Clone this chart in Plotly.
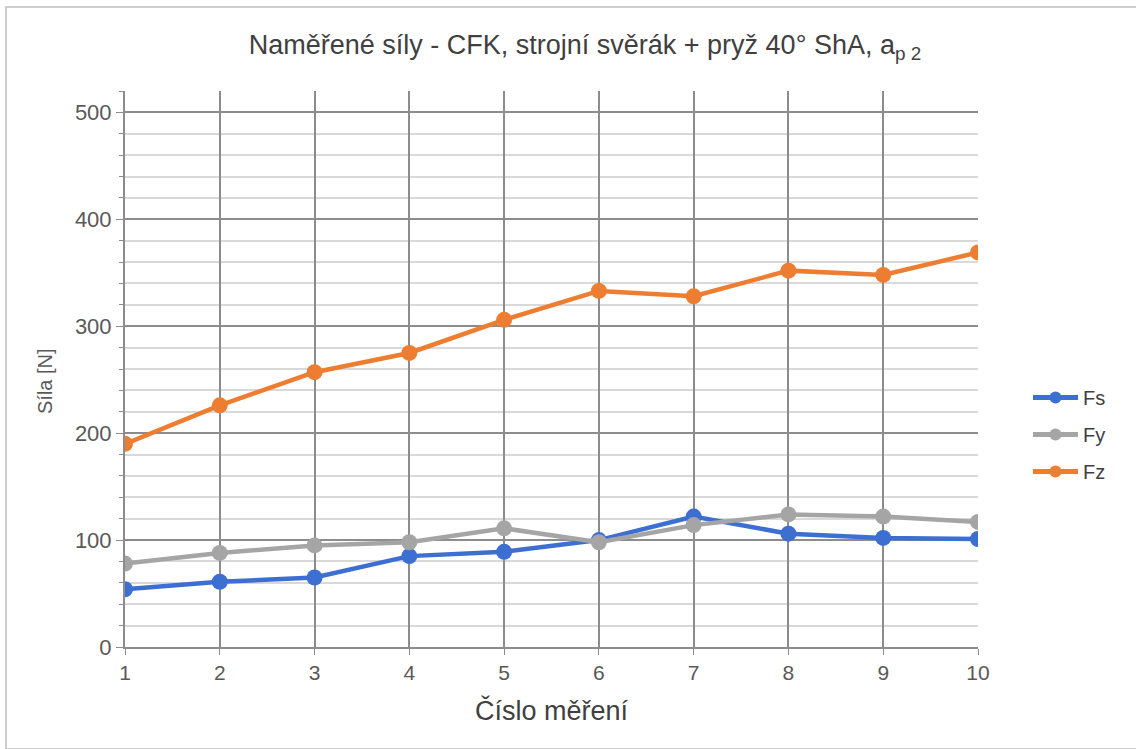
import plotly.graph_objects as go

measurements = [1, 2, 3, 4, 5, 6, 7, 8, 9, 10]
fs = [54, 61, 65, 85, 89, 100, 122, 106, 102, 101]
fy = [78, 88, 95, 98, 111, 98, 114, 124, 122, 117]
fz = [190, 226, 257, 275, 306, 333, 328, 352, 348, 369]

series = [("Fs", fs, "#3C6FD1"), ("Fy", fy, "#A5A5A5"), ("Fz", fz, "#ED7D31")]

fig = go.Figure()
for name, vals, col in series:
    fig.add_trace(go.Scatter(
        x=measurements, y=vals, name=name, mode="lines+markers",
        legendgroup=name,
        line=dict(color=col, width=4.5),
        marker=dict(color=col, size=16),
    ))

W, H = 1136, 749
L, R, T, B = 125, 158, 91, 102
pw, ph = W - L - R, H - T - B

fig.update_layout(
    width=W, height=H,
    margin=dict(l=L, r=R, t=T, b=B),
    paper_bgcolor="white", plot_bgcolor="white",
    font=dict(family="Liberation Sans, Arial, sans-serif", color="#595959"),
    title=dict(
        text="Naměřené síly - CFK, strojní svěrák + pryž 40° ShA, a<sub>p 2</sub>",
        x=(585 - L) / pw, xref="paper", xanchor="center",
        y=1 - 45 / H, yanchor="middle",
        font=dict(size=27, color="#404040"),
    ),
    showlegend=True,
    legend=dict(
        x=(1028 - L) / pw, y=(647 - 378) / ph, xanchor="left", yanchor="top",
        font=dict(size=20, color="#404040"),
        tracegroupgap=8, itemwidth=45, itemsizing="constant",
        bgcolor="rgba(0,0,0,0)",
    ),
    xaxis=dict(
        range=[1, 10], tickmode="array", tickvals=measurements,
        ticktext=[str(v) for v in measurements],
        showgrid=True, gridcolor="#8C8C8C", gridwidth=2,
        showline=True, linecolor="#8C8C8C", linewidth=2,
        ticks="outside", ticklen=6, tickcolor="#8C8C8C",
        tickfont=dict(size=21, color="#595959"),
        zeroline=False,
        title=dict(text="Číslo měření", font=dict(size=27, color="#404040"), standoff=18),
    ),
    yaxis=dict(
        range=[0, 520], tick0=0, dtick=100,
        showgrid=True, gridcolor="#8C8C8C", gridwidth=2,
        showline=True, linecolor="#8C8C8C", linewidth=2,
        ticks="outside", ticklen=7, tickcolor="#8C8C8C",
        tickfont=dict(size=22, color="#595959"),
        zeroline=False,
        minor=dict(dtick=20, showgrid=True, gridcolor="#D9D9D9", gridwidth=2,
                   ticks="outside", ticklen=4, tickcolor="#8C8C8C"),
    ),
)

# y axis title placed as in the reference
fig.add_annotation(
    text="Síla [N]", xref="paper", yref="paper",
    x=(45 - L) / pw, y=(647 - 381) / ph, xanchor="center", yanchor="middle",
    textangle=-90, showarrow=False,
    font=dict(size=20, color="#595959"),
)

# outer chart border
fig.add_shape(type="rect", xref="paper", yref="paper",
              x0=(6 - L) / pw, x1=(1150 - L) / pw,
              y0=(H - T - 760) / ph, y1=(H - B - 7) / ph,
              line=dict(color="#BFBFBF", width=1.5), layer="below")

fig.write_html("out.html")
